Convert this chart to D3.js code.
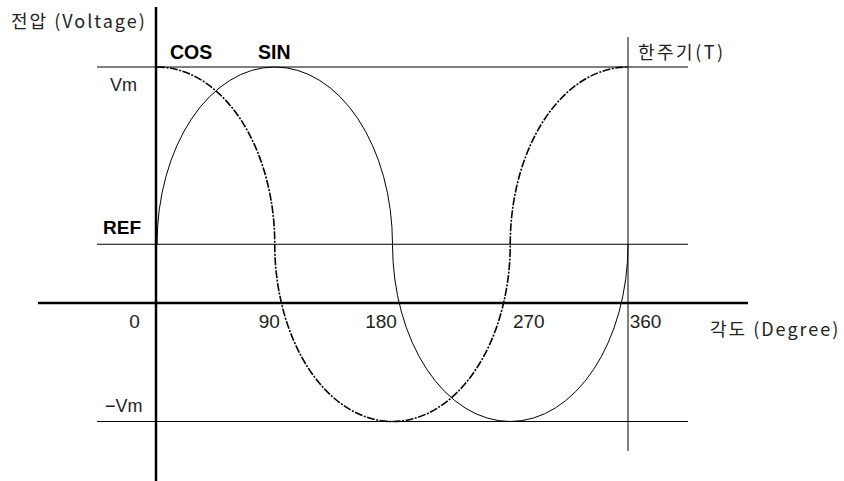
<!DOCTYPE html>
<html>
<head>
<meta charset="utf-8">
<script src="https://cdn.jsdelivr.net/npm/d3@7"></script>
<style>
  body { margin: 0; background: #fff; }
  text { font-family: "Noto Sans CJK KR", "Liberation Sans", sans-serif; fill: #222; }
  .bold { font-family: "Liberation Sans", Arial, sans-serif; font-weight: bold; fill: #000; }
  .title { font-size: 18px; letter-spacing: 2px; }
</style>
</head>
<body>
<div id="chart"></div>
<script>
// key points of one period
var degrees = [0, 90, 180, 270, 360];
var sinVals = [0, 1, 0, -1, 0];
var cosVals = [1, 0, -1, 0, 1];
var levels = [1, 0, -1];
var levelLabels = ["Vm", "REF", "\u2212Vm"];
var tickLabels = ["0", "90", "180", "270", "360"];

var width = 844, height = 481;

var svg = d3.select("#chart").append("svg")
    .attr("width", width)
    .attr("height", height);

var x = d3.scaleLinear().domain([0, 360]).range([157, 628]);
var y = d3.scaleLinear().domain([-1, 1]).range([421.5, 67]);
var axisY = 303;

// horizontal guide lines (Vm, REF, -Vm)
svg.selectAll(".guide")
    .data(levels)
    .enter().append("line")
    .attr("class", "guide")
    .attr("x1", 97).attr("x2", 688)
    .attr("y1", function(d) { return y(d); })
    .attr("y2", function(d) { return y(d); })
    .attr("stroke", "#000")
    .attr("stroke-width", 1);

// period marker
svg.append("line")
    .attr("x1", x(360)).attr("x2", x(360))
    .attr("y1", 37).attr("y2", 451)
    .attr("stroke", "#000")
    .attr("stroke-width", 1);

// quarter ellipse arcs between the key points
function arcPath(vals) {
    var p = "M" + x(degrees[0]) + "," + y(vals[0]);
    for (var i = 1; i < degrees.length; i++) {
        var x0 = x(degrees[i - 1]), y0 = y(vals[i - 1]);
        var x1 = x(degrees[i]), y1 = y(vals[i]);
        var sweep = (vals[i - 1] > 0 || vals[i] > 0) ? 1 : 0;
        p += "A" + Math.abs(x1 - x0) + "," + Math.abs(y1 - y0) + " 0 0 " + sweep + " " + x1 + "," + y1;
    }
    return p;
}

svg.append("path")
    .attr("d", arcPath(sinVals))
    .attr("fill", "none")
    .attr("stroke", "#000")
    .attr("stroke-width", 1);

svg.append("path")
    .attr("d", arcPath(cosVals))
    .attr("fill", "none")
    .attr("stroke", "#000")
    .attr("stroke-width", 1.6)
    .attr("stroke-dasharray", "8,1.5,2,1.5");

// axes
svg.append("line")
    .attr("x1", 38).attr("x2", 748)
    .attr("y1", axisY).attr("y2", axisY)
    .attr("stroke", "#000")
    .attr("stroke-width", 2.5);

svg.append("line")
    .attr("x1", 156).attr("x2", 156)
    .attr("y1", 7).attr("y2", 481)
    .attr("stroke", "#000")
    .attr("stroke-width", 2.5);

// degree labels
var labelShift = [-23, -6, -12, 18, 17];
var xAxis = svg.append("g")
    .attr("transform", "translate(0," + axisY + ")")
    .call(d3.axisBottom(x).tickValues(degrees).tickSize(0)
        .tickFormat(function(d, i) { return tickLabels[i]; }));
xAxis.select(".domain").remove();
xAxis.selectAll("text")
    .attr("y", 25)
    .attr("dy", 0)
    .attr("dx", function(d, i) { return labelShift[i]; })
    .style("font-family", "'Liberation Sans', sans-serif")
    .style("font-size", "19px")
    .style("fill", "#222");

// level labels
var levelX = [110, 103, 105];
var levelDy = [24, -10, -10];
svg.selectAll(".lvl")
    .data(levels)
    .enter().append("text")
    .attr("class", function(d, i) { return i == 1 ? "lvl bold" : "lvl"; })
    .attr("x", function(d, i) { return levelX[i]; })
    .attr("y", function(d, i) { return y(d) + levelDy[i]; })
    .style("font-size", function(d, i) { return i == 1 ? "19px" : "18px"; })
    .style("font-family", function(d, i) { return i == 1 ? null : "'Liberation Sans', sans-serif"; })
    .text(function(d, i) { return levelLabels[i]; });

// titles
svg.append("text").attr("class", "title").attr("x", 11).attr("y", 28)
    .text("전압 (Voltage)");
svg.append("text").attr("class", "title").attr("x", 710).attr("y", 336)
    .text("각도 (Degree)");
svg.append("text").attr("class", "title").attr("x", 638).attr("y", 59)
    .style("letter-spacing", "2.5px").text("한주기(T)");
svg.append("text").attr("class", "bold").attr("x", 170).attr("y", 59)
    .style("font-size", "19.5px").text("COS");
svg.append("text").attr("class", "bold").attr("x", 258).attr("y", 59)
    .style("font-size", "19.5px").text("SIN");
</script>
</body>
</html>
